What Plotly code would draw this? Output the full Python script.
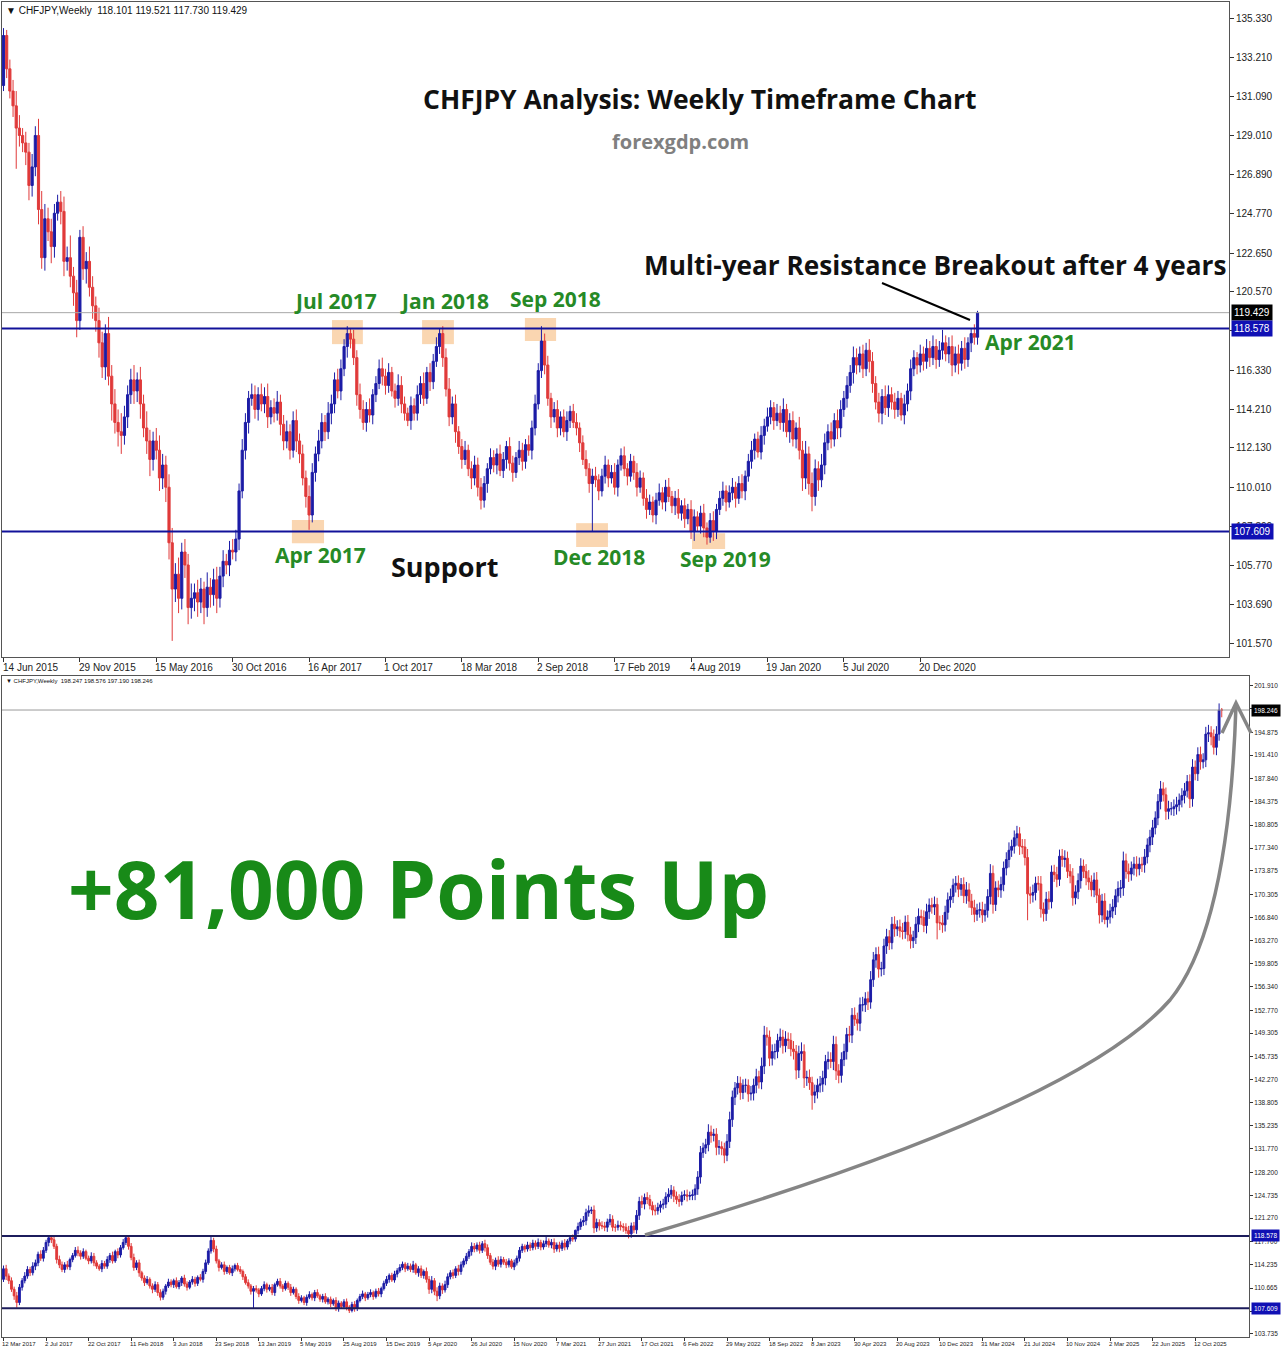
import plotly.graph_objects as go

W, H = 1281, 1350

# ---------------- data (weekly CHFJPY, index 0 = week of 14 Jun 2015) ----------------
first_open = 131.7
closes = [
    134.4, 132.6, 131.4, 130.6, 129.4, 129.0, 128.6, 128.1, 126.3, 127.3,
    129.0, 125.0, 122.4, 124.5, 123.8, 123.0, 124.8, 125.4, 124.9, 122.2,
    122.4, 121.4, 120.5, 119.0, 123.5, 121.8, 122.2, 120.8, 119.8, 119.0,
    117.8, 116.5, 118.3, 116.0, 114.5, 113.5, 113.0, 112.8, 113.8, 115.0,
    115.8, 115.2, 115.8, 114.5, 113.2, 112.5, 111.5, 112.5, 112.0, 110.5,
    111.2, 110.0, 107.0, 104.5, 105.3, 104.0, 106.5, 105.8, 103.5, 104.0,
    104.3, 103.8, 104.5, 103.5, 104.6, 104.2, 105.0, 104.0, 105.2, 106.0,
    105.8, 106.6, 106.5, 107.2, 109.8, 112.0, 113.5, 114.8, 115.0, 114.2,
    115.0, 114.5, 114.9, 113.8, 114.3, 114.0, 114.6, 113.4, 112.5, 113.0,
    112.0, 113.6, 112.5, 111.8, 110.5, 109.5, 108.5, 110.8, 111.8, 112.5,
    113.5, 113.0, 114.0, 114.5, 115.8, 115.2, 116.4, 117.6, 118.3, 118.0,
    117.0, 115.0, 114.2, 113.5, 114.2, 113.9, 115.0, 115.6, 116.4, 116.0,
    115.5, 116.2, 115.2, 114.8, 115.5, 114.5, 114.0, 113.6, 114.4, 114.0,
    115.0, 115.6, 114.8, 116.2, 115.7, 116.8, 117.6, 118.3, 117.0, 115.3,
    113.8, 114.5, 113.0, 112.2, 111.5, 112.0, 111.0, 110.5, 111.2, 110.0,
    109.3, 110.2, 111.0, 111.6, 111.2, 111.8, 110.9, 111.5, 112.2, 111.3,
    110.8, 111.6, 112.0, 111.4, 112.3, 112.0, 113.2, 114.5, 116.3, 117.9,
    116.6, 114.8, 113.8, 114.2, 113.2, 113.8, 113.0, 113.6, 114.1, 113.5,
    113.2, 112.4, 111.5, 111.0, 110.2, 110.6, 110.4, 109.8, 110.6, 111.2,
    110.5, 110.8, 110.0, 111.2, 111.7, 111.0, 110.6, 111.4, 110.8, 110.0,
    110.5, 109.4, 108.8, 109.2, 108.5, 109.3, 109.7, 109.2, 110.0, 109.5,
    109.0, 109.4, 108.6, 109.0, 108.3, 108.8, 107.6, 108.4, 107.9, 108.6,
    107.8, 107.3, 108.2, 107.6, 108.8, 109.4, 109.8, 109.2, 109.7, 110.0,
    109.4, 110.2, 109.8, 110.6, 111.4, 112.0, 112.6, 111.9, 112.8, 113.3,
    113.8, 114.3, 113.6, 114.0, 113.5, 114.2, 113.0, 113.6, 112.6, 113.2,
    112.0, 110.5, 111.8, 110.2, 109.5, 111.0, 110.4, 111.2, 112.4, 113.0,
    112.6, 113.6, 113.2, 114.2, 114.8, 115.5, 116.2, 117.0, 116.6, 117.2,
    116.4, 117.4, 116.8, 115.6, 114.6, 114.0, 114.9, 114.3, 115.0, 114.6,
    114.2, 114.8, 113.9, 114.5, 115.2, 116.4, 117.0, 116.6, 117.2, 116.8,
    117.5, 117.0, 117.6, 116.9, 117.4, 117.8, 117.2, 117.6, 116.6, 117.2,
    116.7, 117.5, 116.9, 117.8, 118.3, 118.101, 119.429, 120.0, 120.7, 120.9,
    122.1, 122.4, 122.5, 119.8, 120.6, 120.1, 120.1, 119.9, 120.7, 121.1,
    119.9, 119.9, 120.2, 120.0, 119.9, 119.4, 118.9, 120.1, 119.5, 121.7,
    123.8, 123.4, 124.4, 124.1, 123.2, 122.5, 122.4, 122.9, 123.3, 123.4,
    124.5, 124.9, 125.5, 124.6, 124.1, 123.8, 124.7, 124.8, 124.6, 124.7,
    124.8, 125.7, 127.5, 131.2, 131.9, 132.4, 134.3, 133.8, 134.0, 132.0,
    132.1, 131.8, 130.8, 132.9, 136.2, 139.6, 141.0, 141.7, 140.3, 141.4,
    141.4, 140.1, 140.2, 141.4, 142.7, 141.9, 144.3, 149.0, 148.7, 145.5,
    146.5, 146.5, 148.2, 148.7, 147.4, 148.4, 148.2, 146.9, 146.5, 143.7,
    146.2, 146.5, 142.5, 142.6, 141.8, 139.9, 140.4, 141.4, 141.6, 142.5,
    145.0, 145.3, 145.0, 147.6, 143.6, 142.9, 145.3, 146.5, 149.1, 149.0,
    152.0, 151.4, 150.8, 153.6, 153.6, 154.5, 154.0, 157.4, 160.4, 161.2,
    159.0, 159.1, 162.5, 163.9, 163.0, 165.8, 165.1, 165.4, 164.8, 164.7,
    166.1, 164.2, 163.3, 163.8, 165.8, 167.0, 166.8, 165.6, 167.7, 168.7,
    168.4, 168.8, 166.0, 166.0, 165.7, 167.6, 169.5, 170.0, 171.7, 172.0,
    171.1, 171.8, 170.1, 171.0, 169.3, 168.3, 167.3, 167.9, 168.0, 167.2,
    167.9, 170.0, 173.5, 168.8, 171.3, 171.0, 171.8, 174.3, 175.6, 177.0,
    177.6, 178.9, 179.5, 177.6, 177.5, 175.9, 170.4, 170.2, 170.6, 172.0,
    171.9, 168.1, 167.4, 169.6, 169.2, 173.7, 173.3, 172.6, 176.1, 175.6,
    175.8, 173.8, 173.1, 169.8, 170.7, 172.4, 174.6, 173.8, 172.8, 172.2,
    171.0, 172.5, 170.2, 167.2, 169.3, 166.5, 166.9, 167.8, 168.4, 170.1,
    171.2, 171.3, 175.4, 173.8, 173.4, 174.3, 174.9, 174.2, 174.9, 174.8,
    176.0, 177.8, 179.0, 180.4, 181.9, 184.4, 186.3, 185.4, 182.9, 183.3,
    183.3, 183.6, 183.9, 184.6, 185.3, 186.0, 187.4, 184.8, 189.6, 188.6,
    191.5, 190.4, 190.7, 194.6, 194.8, 194.2, 192.6, 194.6, 198.247, 198.246,
]
# wick lengths above / below the body, in tenths of a yen
wick_up = [
    4, 3, 5, 6, 8, 7, 4, 6, 5, 7,
    5, 9, 10, 8, 6, 7, 5, 4, 6, 8,
    6, 12, 5, 7, 4, 6, 5, 8, 6, 5,
    7, 6, 5, 9, 6, 8, 7, 10, 6, 5,
    6, 8, 4, 7, 5, 9, 6, 5, 7, 8,
    6, 5, 7, 8, 6, 9, 5, 7, 6, 8,
    5, 7, 6, 4, 8, 5, 6, 7, 5, 6,
    4, 5, 6, 5, 4, 6, 5, 4, 6, 5,
    4, 6, 5, 7, 4, 5, 6, 4, 5, 6,
    4, 5, 6, 4, 5, 4, 6, 5, 4, 6,
    5, 4, 6, 5, 4, 6, 5, 4, 4, 3,
    5, 4, 6, 5, 4, 6, 3, 4, 5, 6,
    4, 5, 3, 4, 6, 5, 4, 3, 5, 4,
    5, 4, 6, 3, 5, 4, 5, 3, 4, 5,
    6, 4, 5, 3, 4, 5, 3, 4, 5, 4,
    5, 4, 3, 5, 4, 3, 5, 4, 3, 5,
    4, 3, 5, 4, 3, 5, 4, 5, 4, 8,
    4, 5, 3, 4, 5, 3, 4, 5, 3, 4,
    5, 3, 4, 5, 3, 4, 5, 3, 4, 5,
    3, 4, 5, 3, 4, 5, 3, 4, 3, 5,
    4, 3, 5, 4, 3, 4, 5, 3, 4, 5,
    3, 4, 5, 3, 4, 3, 5, 4, 3, 4,
    5, 3, 4, 5, 3, 4, 5, 3, 4, 5,
    3, 4, 5, 3, 4, 5, 3, 4, 5, 4,
    5, 4, 3, 5, 4, 6, 3, 4, 5, 3,
    6, 5, 7, 4, 6, 5, 4, 6, 5, 4,
    5, 4, 6, 5, 4, 5, 4, 6, 5, 4,
    5, 4, 6, 5, 4, 5, 4, 6, 5, 4,
    5, 4, 3, 5, 4, 5, 4, 3, 5, 4,
    5, 4, 6, 4, 5, 7, 4, 5, 6, 4,
    5, 4, 6, 3, 3, 5, 1, 6, 5, 7,
    6, 8, 5, 7, 6, 5, 7, 6, 5, 8,
    6, 5, 7, 6, 5, 6, 7, 5, 6, 8,
    7, 9, 6, 8, 7, 6, 8, 7, 6, 8,
    7, 9, 8, 6, 7, 8, 6, 7, 8, 6,
    8, 7, 9, 10, 8, 9, 12, 10, 8, 9,
    10, 8, 9, 11, 12, 10, 9, 11, 10, 9,
    10, 9, 11, 10, 12, 9, 13, 14, 12, 10,
    11, 12, 10, 13, 11, 12, 10, 11, 12, 10,
    12, 14, 11, 10, 12, 9, 11, 10, 12, 11,
    10, 12, 11, 13, 12, 10, 11, 12, 10, 13,
    11, 12, 10, 11, 12, 10, 11, 13, 12, 11,
    12, 10, 11, 12, 10, 11, 12, 10, 11, 12,
    10, 11, 12, 10, 11, 12, 10, 11, 12, 10,
    11, 12, 10, 11, 12, 10, 11, 12, 10, 11,
    12, 10, 11, 12, 10, 11, 12, 10, 11, 12,
    10, 11, 14, 12, 10, 11, 12, 10, 11, 12,
    10, 11, 12, 10, 11, 12, 13, 11, 12, 10,
    11, 12, 10, 11, 12, 10, 11, 12, 10, 11,
    12, 10, 11, 12, 10, 11, 12, 10, 11, 12,
    10, 11, 12, 10, 11, 12, 10, 11, 12, 10,
    11, 12, 14, 11, 12, 10, 11, 12, 10, 11,
    12, 10, 11, 12, 10, 11, 12, 10, 11, 12,
    10, 11, 12, 10, 11, 12, 10, 11, 12, 10,
    11, 12, 10, 11, 12, 10, 11, 12, 10, 3,
]
wick_dn = [
    3, 5, 4, 6, 22, 6, 5, 7, 8, 6,
    5, 8, 6, 7, 5, 9, 6, 4, 7, 8,
    5, 6, 7, 9, 5, 6, 8, 5, 7, 6,
    8, 6, 7, 5, 9, 6, 8, 10, 5, 6,
    5, 7, 6, 8, 5, 7, 9, 6, 5, 7,
    6, 8, 9, 28, 7, 8, 6, 7, 9, 6,
    7, 8, 6, 9, 5, 7, 6, 8, 5, 6,
    5, 6, 4, 5, 6, 4, 5, 6, 4, 5,
    6, 4, 5, 6, 4, 5, 4, 6, 5, 4,
    5, 4, 6, 5, 4, 6, 8, 4, 5, 4,
    4, 5, 4, 6, 5, 4, 5, 4, 6, 5,
    4, 6, 5, 4, 5, 4, 5, 4, 3, 5,
    5, 4, 3, 5, 4, 5, 4, 3, 5, 4,
    4, 5, 4, 3, 5, 4, 3, 4, 5, 4,
    5, 4, 6, 4, 5, 3, 4, 6, 4, 5,
    5, 4, 5, 3, 4, 5, 3, 4, 5, 4,
    5, 3, 4, 5, 4, 3, 5, 4, 3, 4,
    5, 4, 6, 3, 5, 4, 3, 5, 4, 3,
    4, 5, 3, 4, 5, 26, 4, 5, 3, 4,
    5, 3, 4, 5, 3, 4, 5, 3, 4, 5,
    3, 4, 5, 3, 4, 5, 3, 4, 5, 3,
    4, 5, 3, 4, 5, 3, 4, 5, 3, 4,
    5, 4, 3, 5, 4, 3, 4, 5, 3, 4,
    5, 3, 4, 5, 3, 4, 5, 3, 4, 5,
    3, 4, 5, 3, 4, 5, 3, 6, 4, 5,
    5, 7, 6, 6, 8, 5, 6, 4, 5, 4,
    5, 4, 6, 5, 4, 5, 4, 6, 5, 4,
    5, 4, 6, 5, 4, 5, 6, 4, 5, 4,
    5, 4, 3, 5, 4, 5, 4, 5, 4, 5,
    4, 5, 4, 5, 4, 5, 4, 5, 6, 4,
    6, 4, 5, 4, 5, 4, 4, 6, 5, 6,
    7, 6, 5, 8, 6, 7, 5, 6, 7, 5,
    6, 7, 5, 6, 7, 5, 7, 6, 5, 6,
    7, 6, 8, 7, 6, 8, 7, 6, 8, 7,
    6, 8, 7, 9, 7, 8, 6, 7, 8, 6,
    7, 8, 9, 10, 8, 9, 10, 11, 9, 12,
    11, 10, 12, 9, 10, 11, 12, 10, 11, 10,
    11, 12, 10, 11, 12, 10, 11, 12, 13, 12,
    11, 12, 10, 11, 12, 10, 13, 11, 12, 14,
    12, 11, 15, 12, 11, 22, 12, 10, 11, 12,
    11, 12, 10, 13, 14, 12, 11, 10, 12, 11,
    12, 10, 11, 12, 10, 11, 12, 10, 11, 12,
    13, 11, 10, 12, 11, 10, 12, 11, 10, 12,
    11, 10, 12, 11, 10, 12, 11, 10, 12, 11,
    10, 12, 25, 11, 12, 10, 11, 12, 10, 11,
    12, 10, 11, 12, 10, 11, 12, 10, 11, 12,
    10, 11, 12, 14, 10, 11, 12, 10, 11, 12,
    10, 11, 12, 13, 11, 12, 40, 13, 11, 12,
    10, 13, 12, 11, 12, 10, 11, 12, 10, 11,
    12, 10, 11, 12, 10, 11, 12, 10, 11, 12,
    10, 11, 12, 13, 11, 7, 12, 10, 11, 12,
    10, 14, 12, 11, 12, 10, 11, 12, 10, 11,
    12, 10, 11, 12, 10, 11, 12, 10, 13, 12,
    10, 11, 12, 10, 11, 12, 10, 14, 12, 10,
    11, 12, 10, 11, 12, 13, 11, 12, 10, 11,
]

top_last_idx = 306       # week of 25 Apr 2021
bottom_first_idx = 91    # week of 12 Mar 2017

top_x_ticks = [0, 24, 48, 72, 96, 120, 144, 168, 192, 216, 240, 264, 288]
top_x_labels = ["14 Jun 2015", "29 Nov 2015", "15 May 2016", "30 Oct 2016", "16 Apr 2017",
                "1 Oct 2017", "18 Mar 2018", "2 Sep 2018", "17 Feb 2019", "4 Aug 2019",
                "19 Jan 2020", "5 Jul 2020", "20 Dec 2020"]
bottom_x_ticks = [91, 107, 123, 139, 155, 171, 187, 203, 219, 235, 251, 267, 283, 299, 315,
                  331, 347, 363, 379, 395, 411, 427, 443, 459, 475, 491, 507, 523, 539]
bottom_x_labels = ["12 Mar 2017", "2 Jul 2017", "22 Oct 2017", "11 Feb 2018", "3 Jun 2018",
                   "23 Sep 2018", "13 Jan 2019", "5 May 2019", "25 Aug 2019", "15 Dec 2019",
                   "5 Apr 2020", "26 Jul 2020", "15 Nov 2020", "7 Mar 2021", "27 Jun 2021",
                   "17 Oct 2021", "6 Feb 2022", "29 May 2022", "18 Sep 2022", "8 Jan 2023",
                   "30 Apr 2023", "20 Aug 2023", "10 Dec 2023", "31 Mar 2024", "21 Jul 2024",
                   "10 Nov 2024", "2 Mar 2025", "22 Jun 2025", "12 Oct 2025"]
top_y_ticks = [135.330, 133.210, 131.090, 129.010, 126.890, 124.770, 122.650, 120.570, 118.450,
               116.330, 114.210, 112.130, 110.010, 107.890, 105.770, 103.690, 101.570]
bottom_y_ticks = [201.910, 198.445, 194.875, 191.410, 187.840, 184.375, 180.805, 177.340,
                  173.875, 170.305, 166.840, 163.270, 159.805, 156.340, 152.770, 149.305,
                  145.735, 142.270, 138.805, 135.235, 131.770, 128.200, 124.735, 121.270,
                  117.700, 114.235, 110.665, 107.200, 103.735]

resistance_level = 118.578
support_level = 107.609
top_ohlc = [118.101, 119.521, 117.730, 119.429]
bottom_ohlc = [198.247, 198.576, 197.190, 198.246]

# ---------------- derived OHLC ----------------
n = min(len(closes), len(wick_up), len(wick_dn))
opens = [first_open] + closes[:n - 1]
highs = [max(o, c) + u / 10 for o, c, u in zip(opens, closes[:n], wick_up[:n])]
lows = [min(o, c) - d / 10 for o, c, d in zip(opens, closes[:n], wick_dn[:n])]

BLUE = "#1c1ca6"
RED = "#e03a3a"
GREEN = "#268a26"
LINE_BLUE = "#12129a"


def candles(i0, i1, xa, ya):
    idx = list(range(i0, min(i1, n - 1) + 1))
    return go.Candlestick(
        x=idx,
        open=[opens[i] for i in idx],
        high=[highs[i] for i in idx],
        low=[lows[i] for i in idx],
        close=[closes[i] for i in idx],
        xaxis=xa, yaxis=ya,
        increasing=dict(line=dict(color=BLUE, width=1), fillcolor=BLUE),
        decreasing=dict(line=dict(color=RED, width=1), fillcolor=RED),
        whiskerwidth=0, hoverinfo="skip", showlegend=False,
    )


fig = go.Figure()
fig.add_trace(candles(0, top_last_idx, "x", "y"))
fig.add_trace(candles(bottom_first_idx, n - 1, "x2", "y2"))


def px(x):
    return x / W


def py(y):
    return 1 - y / H


def P(x, y):
    return f"{px(x):.5f},{py(y):.5f}"


axis_common = dict(showgrid=False, zeroline=False, showline=True, linecolor="#555555",
                   linewidth=1, mirror=True, fixedrange=True)

fig.update_layout(
    width=W, height=H,
    margin=dict(l=0, r=0, t=0, b=0),
    paper_bgcolor="white", plot_bgcolor="white",
    showlegend=False, hovermode=False,
    boxgap=0.2, boxgroupgap=0.15,
    xaxis=dict(domain=[px(2), px(1229)], range=[-0.47, 385.0], anchor="y",
               tickvals=top_x_ticks, ticks="outside", ticklen=4, tickcolor="#333",
               showticklabels=False, rangeslider=dict(visible=False), **axis_common),
    yaxis=dict(domain=[py(657), py(2)], range=[100.83, 136.21], anchor="x", side="right",
               tickvals=top_y_ticks, ticktext=[f"{v:.3f}" for v in top_y_ticks],
               ticks="outside", ticklen=4, tickcolor="#333",
               tickfont=dict(family="Liberation Sans", size=10, color="#222"), **axis_common),
    xaxis2=dict(domain=[px(2), px(1249)], range=[90.44, 559.24], anchor="y2",
                tickvals=bottom_x_ticks, ticks="outside", ticklen=3, tickcolor="#333",
                showticklabels=False, rangeslider=dict(visible=False), **axis_common),
    yaxis2=dict(domain=[py(1337), py(676)], range=[103.27, 203.4], anchor="x2", side="right",
                tickvals=bottom_y_ticks, ticktext=[f"{v:.3f}" for v in bottom_y_ticks],
                ticks="outside", ticklen=3, tickcolor="#333",
                tickfont=dict(family="Liberation Sans", size=6.5, color="#222"), **axis_common),
)

shapes = []
# highlight boxes (x in weeks, y in price)
peach_boxes = [
    (103.2, 112.9, 117.73, 119.03),
    (131.5, 141.5, 117.73, 119.03),
    (163.8, 173.6, 117.90, 119.14),
    (90.6, 100.7, 106.98, 108.23),
    (179.9, 189.9, 106.77, 108.06),
    (216.3, 226.7, 106.66, 107.52),
]
for x0, x1, y0, y1 in peach_boxes:
    shapes.append(dict(type="rect", xref="x", yref="y", x0=x0, x1=x1, y0=y0, y1=y1,
                       fillcolor="#f9d2a8", opacity=0.9, line=dict(width=0), layer="below"))

# top panel horizontal levels
shapes.append(dict(type="line", xref="x domain", yref="y", x0=0, x1=1,
                   y0=top_ohlc[3], y1=top_ohlc[3], line=dict(color="#a8a8a8", width=1)))
for lvl in (resistance_level, support_level):
    shapes.append(dict(type="line", xref="x domain", yref="y", x0=0, x1=1, y0=lvl, y1=lvl,
                       line=dict(color=LINE_BLUE, width=2)))
# pointer line to breakout
shapes.append(dict(type="line", xref="paper", yref="paper", x0=px(882), y0=py(283),
                   x1=px(970), y1=py(320), line=dict(color="black", width=2)))

# bottom panel horizontal levels
shapes.append(dict(type="line", xref="x2 domain", yref="y2", x0=0, x1=1,
                   y0=bottom_ohlc[3], y1=bottom_ohlc[3], line=dict(color="#9a9a9a", width=1)))
for lvl in (resistance_level, support_level):
    shapes.append(dict(type="line", xref="x2 domain", yref="y2", x0=0, x1=1, y0=lvl, y1=lvl,
                       line=dict(color="#1c1c5c", width=2)))
# curved gray arrow
shapes.append(dict(type="path", xref="paper", yref="paper",
                   path=f"M {P(645,1235)} C {P(900,1160)} {P(1100,1080)} {P(1170,1000)} "
                        f"C {P(1215,945)} {P(1232,830)} {P(1236,705)}",
                   line=dict(color="#858585", width=3.5)))
shapes.append(dict(type="path", xref="paper", yref="paper",
                   path=f"M {P(1222,733)} L {P(1236,703)} L {P(1251,733)}",
                   line=dict(color="#858585", width=3.5)))
fig.update_layout(shapes=shapes)

ann = []
NB = "\u00a0"
ann.append(dict(x=px(4), y=py(10), xref="paper", yref="paper", xanchor="left", yanchor="middle",
                text="▼ CHFJPY,Weekly" + NB * 2 + " ".join(f"{v:.3f}" for v in top_ohlc),
                showarrow=False, font=dict(family="Liberation Sans", size=10, color="#111")))
ann.append(dict(x=px(4), y=py(681), xref="paper", yref="paper", xanchor="left", yanchor="middle",
                text="▼ CHFJPY,Weekly" + NB * 2 + " ".join(f"{v:.3f}" for v in bottom_ohlc),
                showarrow=False, font=dict(family="Liberation Sans", size=6, color="#111")))

for t, lab in zip(top_x_ticks, top_x_labels):
    ann.append(dict(x=t, xref="x", y=py(660), yref="paper", xanchor="left", yanchor="top",
                    text=lab, showarrow=False, xshift=-3,
                    font=dict(family="Liberation Sans", size=10, color="#222")))
for t, lab in zip(bottom_x_ticks, bottom_x_labels):
    ann.append(dict(x=t, xref="x2", y=py(1339), yref="paper", xanchor="left", yanchor="top",
                    text=lab, showarrow=False, xshift=-3,
                    font=dict(family="Liberation Sans", size=6, color="#222")))

# price tags
for val, bg, xr, yr, fs in [
    (top_ohlc[3], "black", 1231, "y", 10),
    (resistance_level, "#1010b4", 1231, "y", 10),
    (support_level, "#1010b4", 1231, "y", 10),
    (bottom_ohlc[3], "black", 1251, "y2", 6.5),
    (resistance_level, "#1010b4", 1251, "y2", 6.5),
    (support_level, "#1010b4", 1251, "y2", 6.5),
]:
    ann.append(dict(x=px(xr), xref="paper", y=val, yref=yr, xanchor="left", yanchor="middle",
                    text=f"{val:.3f}", showarrow=False, bgcolor=bg, borderpad=2,
                    font=dict(family="Liberation Sans", size=fs, color="white")))


def label(text, x, y, size, color):
    ann.append(dict(x=px(x), y=py(y), xref="paper", yref="paper", xanchor="center",
                    yanchor="middle", text=f"<b>{text}</b>", showarrow=False,
                    font=dict(family="Open Sans", size=size, color=color)))


label("CHFJPY Analysis: Weekly Timeframe Chart", 700, 99, 26.5, "#111111")
label("forexgdp.com", 680, 141, 20, "#808080")
label("Multi-year Resistance Breakout after 4 years", 935, 265, 26.2, "#111111")
label("Jul 2017", 335, 301, 21, GREEN)
label("Jan 2018", 444, 301, 21, GREEN)
label("Sep 2018", 555, 299, 21, GREEN)
label("Apr 2021", 1030, 342, 21, GREEN)
label("Apr 2017", 320, 555, 21, GREEN)
label("Dec 2018", 599, 557, 21, GREEN)
label("Sep 2019", 725, 559, 21, GREEN)
label("Support", 445, 566, 27, "#111111")
label("+81,000 Points Up", 419, 887, 80, "#188a18")

fig.update_layout(annotations=ann)

fig.write_html("out.html", config={"displayModeBar": False})
